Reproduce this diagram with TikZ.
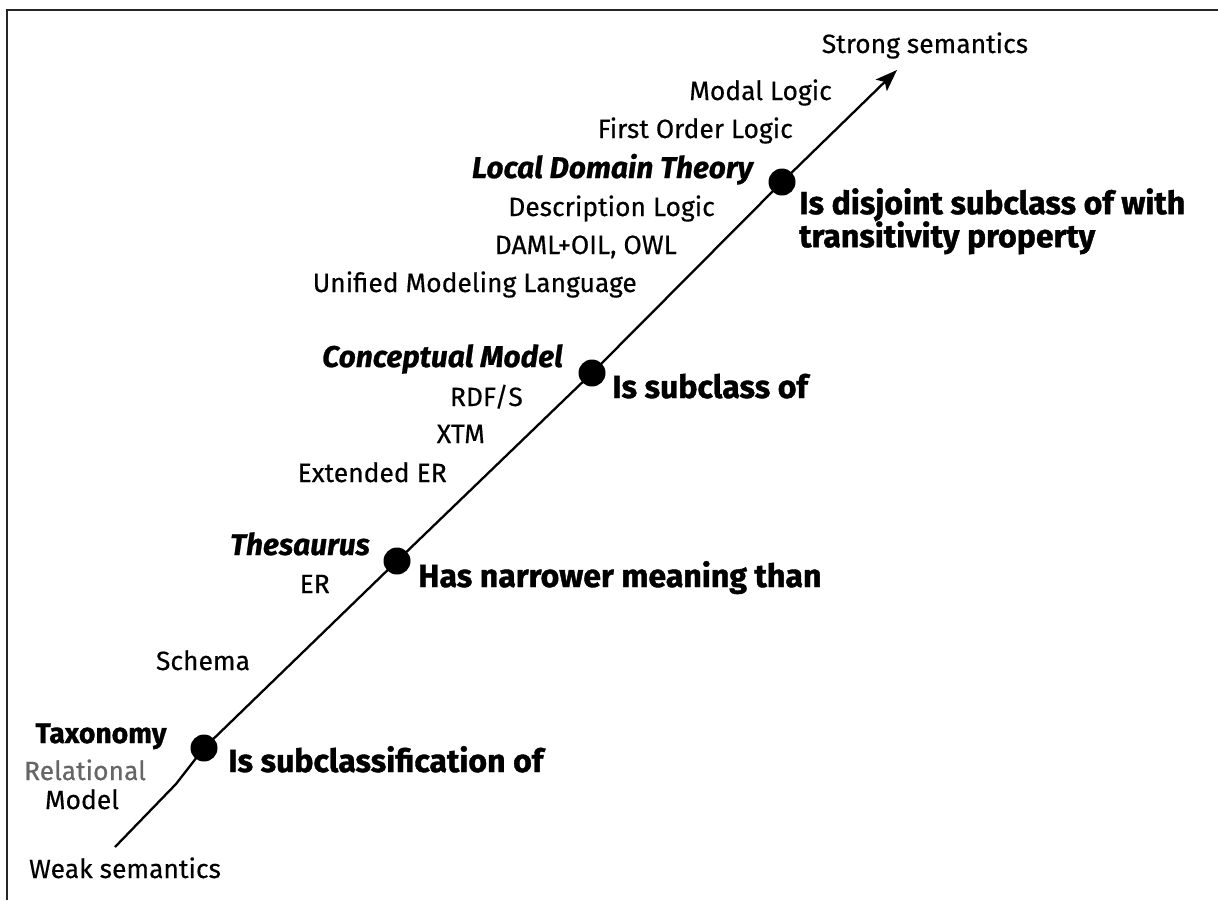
\documentclass[tikz,border=0pt]{standalone}
\usepackage{fontspec}
\setmainfont{Fira Sans}
\newfontfamily\regfont{Fira Sans}[FakeBold=0.4, BoldFeatures={FakeBold=1.2}, BoldItalicFeatures={FakeBold=0.8}]
\usetikzlibrary{arrows.meta}
\newlength\mw
\begin{document}%
% font size calibration from the reference widths
\settowidth\mw{\regfont\fontsize{10}{12}\selectfont Unified Modeling Language\hbox{}Description Logic\hbox{}First Order Logic\hbox{}Strong semantics\hbox{}Weak semantics\hbox{}Extended ER}%
\pgfmathsetmacro\nsz{10*1273/\mw}%
\settowidth\mw{\regfont\bfseries\fontsize{10}{12}\selectfont Is disjoint subclass of with\hbox{}Has narrower meaning than\hbox{}Is subclassification of\hbox{}Is subclass of}%
\pgfmathsetmacro\bsz{10*1300/\mw}%
\settowidth\mw{\regfont\bfseries\itshape\fontsize{10}{12}\selectfont Local Domain Theory\hbox{}Conceptual Model\hbox{}Thesaurus}%
\pgfmathsetmacro\tsz{10*661/\mw}%
\settowidth\mw{\regfont\bfseries\fontsize{10}{12}\selectfont Taxonomy}%
\pgfmathsetmacro\xsz{10*131/\mw}%
\begin{tikzpicture}[x=1pt,y=-1pt,
  lbl/.style={inner sep=0pt, anchor=base, text=black, font=\regfont\fontsize{\nsz}{\nsz}\selectfont},
  term/.style={lbl, font=\regfont\bfseries\itshape\fontsize{\tsz}{\tsz}\selectfont},
  rel/.style={lbl, anchor=base west, font=\regfont\bfseries\fontsize{\bsz}{\bsz}\selectfont},
  taxo/.style={lbl, font=\regfont\bfseries\fontsize{\xsz}{\xsz}\selectfont},
  dot/.style={circle, fill=black, minimum size=27pt, inner sep=0pt},
  axis/.style={line width=2.3pt, line join=round, -{Stealth[length=22pt,width=16pt,inset=5pt]}},
  frame/.style={line width=2pt, draw=black!85}]
\useasboundingbox (0,0) rectangle (1218,900);
\fill[white] (0,0) rectangle (1218,900);
% frame
\coordinate (fb) at (7,900);
\coordinate (fc) at (7,10);
\coordinate (fr) at (1218,10);
\draw[frame] (fb) -- (fc) -- (fr);
% dots
\node[dot] (d1) at (204,748) {};
\node[dot] (d2) at (397,561) {};
\node[dot] (d3) at (592,373) {};
\node[dot] (d4) at (782,182) {};
\coordinate (start) at (115,847);
\coordinate (kink) at (176,784);
\coordinate (tip) at (897,70);
\draw[axis] (start) -- (kink) -- (d1.center) -- (d2.center) -- (d3.center) -- (d4.center) -- (tip);
% ends
\node[lbl] (strong) at (925,53) {Strong semantics};
\node[lbl] (weak) at (125,878) {Weak semantics};
% top group
\node[lbl, anchor=base east] (modal) at (832,100) {Modal Logic};
\node[lbl, anchor=base east] (fol) at (793,138) {First Order Logic};
\node[term, anchor=base east] (ldt) at (753,178) {Local Domain Theory};
\node[lbl, anchor=base east] (dl) at (715,216) {Description Logic};
\node[lbl, anchor=base east] (daml) at (677,254) {DAML+OIL, OWL};
\node[lbl, anchor=base east] (uml) at (637,292) {Unified Modeling Language};
\node[rel, anchor=north west, align=left] (r4) at (799,188)
  {Is disjoint subclass of with\\[-1pt]transitivity property};
% conceptual model group
\node[term, anchor=base east] (cm) at (563,367) {Conceptual Model};
\node[lbl, anchor=base east] (rdfs) at (523,406) {RDF/S};
\node[lbl, anchor=base east] (xtm) at (485,443) {XTM};
\node[lbl, anchor=base east] (eer) at (447,482) {Extended ER};
\node[rel] (r3) at (612,398) {Is subclass of};
% thesaurus group
\node[term, anchor=base east] (thes) at (370,555) {Thesaurus};
\node[lbl, anchor=base east] (er) at (330,593) {ER};
\node[rel] (r2) at (418,587) {Has narrower meaning than};
\node[lbl] (schema) at (203,670) {Schema};
% taxonomy group
\node[taxo] (tax) at (101,743) {Taxonomy};
\node[lbl, text=black!60] (relat) at (85,780) {Relational};
\node[lbl] (model) at (82,809) {Model};
\node[rel] (r1) at (228,772) {Is subclassification of};
\end{tikzpicture}%
\end{document}
